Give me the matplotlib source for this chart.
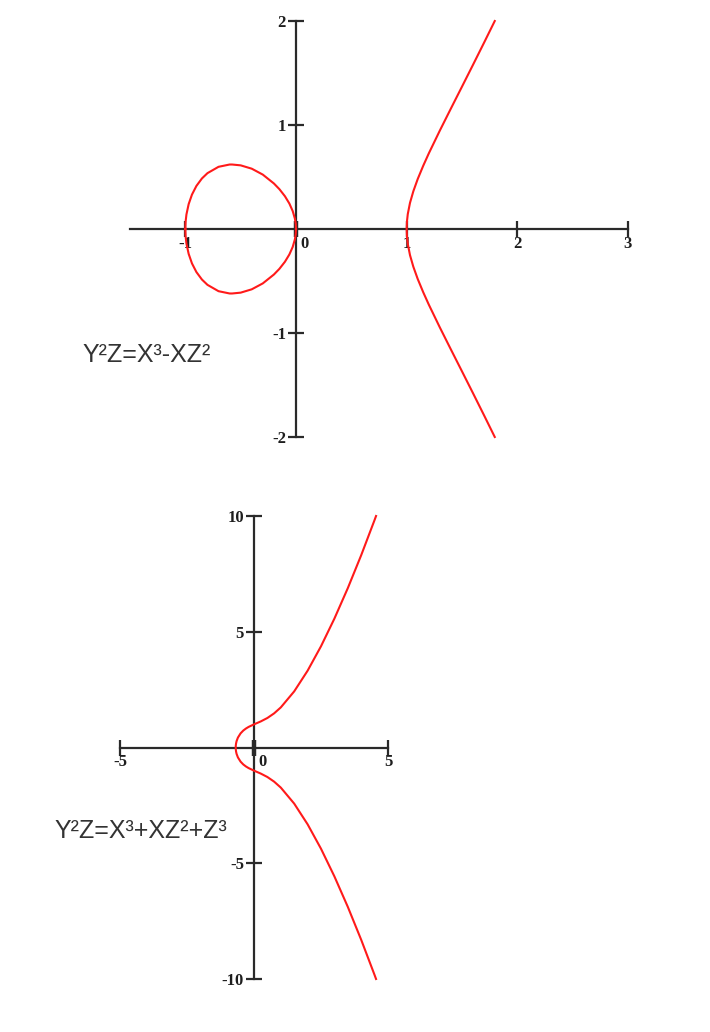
import matplotlib
matplotlib.use("Agg")
from matplotlib import pyplot as plt

# upper halves of the curves (lower halves are mirror images)
oval_x = [-1.0, -0.9975, -0.99, -0.97, -0.94, -0.9, -0.85, -0.8, -0.7, -0.6, -0.577,
          -0.5, -0.4, -0.3, -0.2, -0.15, -0.1, -0.06, -0.03, -0.01, -0.0025, 0.0]
oval_y = [0.0, 0.071, 0.140, 0.239, 0.331, 0.414, 0.486, 0.537, 0.598, 0.620, 0.620,
          0.612, 0.580, 0.523, 0.438, 0.383, 0.315, 0.245, 0.173, 0.100, 0.050, 0.0]
branch_x = [1.0, 1.0025, 1.01, 1.03, 1.06, 1.1, 1.15, 1.2, 1.3, 1.4, 1.5, 1.6, 1.7, 1.796]
branch_y = [0.0, 0.071, 0.143, 0.251, 0.362, 0.481, 0.609, 0.727, 0.947, 1.159, 1.369,
            1.580, 1.793, 2.0]
curve2_x = [-0.6823, -0.68, -0.67, -0.65, -0.6, -0.5, -0.4, -0.3, -0.2, 0.0, 0.25, 0.5,
            0.75, 1.0, 1.5, 2.0, 2.5, 3.0, 3.5, 4.0, 4.5, 4.554]
curve2_y = [0.0, 0.075, 0.171, 0.275, 0.429, 0.612, 0.732, 0.820, 0.890, 1.0, 1.125, 1.275,
            1.474, 1.732, 2.424, 3.317, 4.373, 5.568, 6.883, 8.307, 9.830, 10.0]

top_xticks = [-1, 0, 1, 2, 3]
top_yticks = [-2, -1, 1, 2]
bottom_xticks = [-5, 0, 5]
bottom_yticks = [-10, -5, 5, 10]

top_label = "Y²Z=X³-XZ²"
bottom_label = "Y²Z=X³+XZ²+Z³"

AXIS_COL = '#2a2a2a'
CURVE_COL = '#ff1a1a'
TICK_FONT = dict(family='Liberation Serif', fontsize=12, fontweight='bold', color='#1e1e1e')


def mirror(xs, ys):
    # upper half then lower half, traced as one line
    return list(xs[::-1]) + list(xs), list(ys[::-1]) + [-v for v in ys]


def setup_axes(ax, xlim, ylim, xticks, yticks):
    ax.set_xlim(xlim)
    ax.set_ylim(ylim)
    ax.patch.set_visible(False)
    for side in ['top', 'right']:
        ax.spines[side].set_visible(False)
    for side in ['left', 'bottom']:
        ax.spines[side].set_position('zero')
        ax.spines[side].set_linewidth(1.6)
        ax.spines[side].set_color(AXIS_COL)
    ax.set_xticks(xticks)
    ax.set_yticks(yticks)
    ax.tick_params(direction='inout', length=11.5, width=1.6, color=AXIS_COL,
                   labelbottom=False, labelleft=False)
    # the zero tick on the x axis is drawn heavier
    for t, v in zip(ax.xaxis.get_major_ticks(), xticks):
        if v == 0:
            t.tick1line.set_markeredgewidth(3.2)
            t.tick1line.set_color('#111111')

    # tick labels, placed the way the original program does it
    for v in xticks:
        if v == 0:
            ax.annotate('0', (0, 0), xytext=(4, -7), textcoords='offset pixels',
                        ha='left', va='top', **TICK_FONT)
        else:
            ax.annotate(f'{v:g}', (v, 0), xytext=(0, -7), textcoords='offset pixels',
                        ha='center', va='top', **TICK_FONT)
    for v in yticks:
        ax.annotate(f'{v:g}', (0, v), xytext=(-10, -2), textcoords='offset pixels',
                    ha='right', va='center', **TICK_FONT)


fig = plt.figure(figsize=(7.1, 10.32), dpi=100)

# top chart: y^2 = x^3 - x
ax1 = fig.add_axes([130 / 710, 1 - 437 / 1032, 498 / 710, 416 / 1032])
setup_axes(ax1, (-1.5, 3), (-2, 2), top_xticks, top_yticks)
ox, oy = oval_x + oval_x[::-1], oval_y + [-v for v in oval_y[::-1]]
ax1.plot(ox, oy, color=CURVE_COL, linewidth=1.5, clip_on=False, zorder=3)
bx, by = mirror(branch_x, branch_y)
ax1.plot(bx, by, color=CURVE_COL, linewidth=1.5, clip_on=False, zorder=3)

# bottom chart: y^2 = x^3 + x + 1
ax2 = fig.add_axes([120 / 710, 1 - 979 / 1032, 268 / 710, 463 / 1032])
setup_axes(ax2, (-5, 5), (-10, 10), bottom_xticks, bottom_yticks)
cx, cy = mirror(curve2_x, curve2_y)
ax2.plot(cx, cy, color=CURVE_COL, linewidth=1.5, clip_on=False, zorder=3)

fig.text(82 / 710, 1 - 362 / 1032, top_label, family='Liberation Sans', fontsize=18,
         color='#333333', ha='left', va='baseline')
fig.text(54 / 710, 1 - 838 / 1032, bottom_label, family='Liberation Sans', fontsize=18,
         color='#333333', ha='left', va='baseline')

fig.savefig('out.png', dpi=100)
